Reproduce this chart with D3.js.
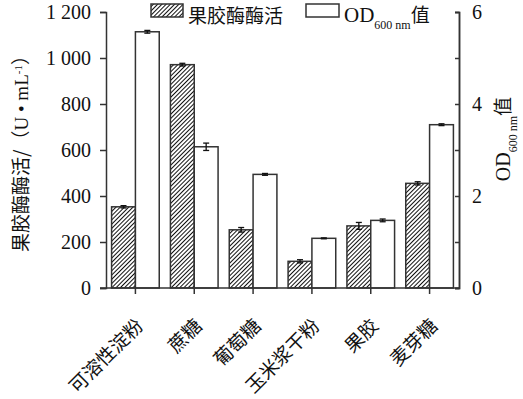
<!DOCTYPE html>
<html><head><meta charset="utf-8">
<script src="https://cdn.jsdelivr.net/npm/d3@7"></script>
<style>
html,body{margin:0;padding:0;background:#fff;}
svg{display:block;}
</style></head>
<body>
<svg id="chart" width="523" height="399"></svg>
<script>
const categories = ["可溶性淀粉","蔗糖","葡萄糖","玉米浆干粉","果胶","麦芽糖"];
const activity = [353, 971, 253, 116, 270, 455];
const activityErr = [5, 6, 10, 7, 15, 7];
const od = [5.57, 3.07, 2.47, 1.08, 1.47, 3.55];
const odErr = [0.03, 0.08, 0.02, 0.01, 0.03, 0.02];
const leftTicks = [0, 200, 400, 600, 800, 1000, 1200];
const leftTickLabels = ["0", "200", "400", "600", "800", "1 000", "1 200"];
const rightTicks = [0, 2, 4, 6];
const rightMinor = [1, 3, 5];
const legendLabels = ["果胶酶酶活", "OD"];

const svg = d3.select("#chart");
const serif = "'Liberation Serif','Times New Roman',serif";
const cjk = "'Noto Sans CJK SC','Liberation Serif',serif";
const axisCol = "#333";

const x = d3.scaleBand().domain(categories).range([106, 459]).padding(0);
const yL = d3.scaleLinear().domain([0, 1200]).range([288, 12]);
const yR = d3.scaleLinear().domain([0, 6]).range([288, 12]);
const bw = x.bandwidth() * 0.405;

const defs = svg.append("defs");
const pat = defs.append("pattern").attr("id", "hatch").attr("patternUnits", "userSpaceOnUse")
  .attr("width", 3).attr("height", 3).attr("patternTransform", "rotate(45)");
pat.append("rect").attr("width", 3).attr("height", 3).attr("fill", "#fff");
pat.append("line").attr("x1", 0).attr("y1", 0).attr("x2", 0).attr("y2", 3)
  .attr("stroke", "#111").attr("stroke-width", 2);

const cx = d => x(d) + x.bandwidth() / 2;

// bars
const g = svg.append("g");
g.selectAll("rect.act").data(categories).join("rect").attr("class", "act")
  .attr("x", d => cx(d) - bw).attr("width", bw)
  .attr("y", (d, i) => yL(activity[i])).attr("height", (d, i) => yL(0) - yL(activity[i]))
  .attr("fill", "url(#hatch)").attr("stroke", axisCol).attr("stroke-width", 1.5);
g.selectAll("rect.od").data(categories).join("rect").attr("class", "od")
  .attr("x", d => cx(d)).attr("width", bw)
  .attr("y", (d, i) => yR(od[i])).attr("height", (d, i) => yR(0) - yR(od[i]))
  .attr("fill", "#fff").attr("stroke", axisCol).attr("stroke-width", 1.5);

// error bars
function errBar(xc, yTop, yBot) {
  const e = svg.append("g").attr("stroke", "#111").attr("stroke-width", 1.3);
  e.append("line").attr("x1", xc).attr("x2", xc).attr("y1", yTop).attr("y2", yBot);
  e.append("line").attr("x1", xc - 3).attr("x2", xc + 3).attr("y1", yTop).attr("y2", yTop);
  e.append("line").attr("x1", xc - 3).attr("x2", xc + 3).attr("y1", yBot).attr("y2", yBot);
}
categories.forEach((c, i) => {
  errBar(cx(c) - bw / 2, yL(activity[i] + activityErr[i]), yL(activity[i] - activityErr[i]));
  errBar(cx(c) + bw / 2, yR(od[i] + odErr[i]), yR(od[i] - odErr[i]));
});

// left axis
const axL = d3.axisLeft(yL).tickValues(leftTicks).tickSize(6).tickPadding(9)
  .tickFormat((d, i) => leftTickLabels[i]);
const gL = svg.append("g").attr("transform", "translate(106,0)").call(axL);
// right axis
const axR = d3.axisRight(yR).tickValues(rightTicks).tickSize(-4).tickPadding(13).tickFormat(d3.format("d"));
const gR = svg.append("g").attr("transform", "translate(459,0)").call(axR);
const gRm = svg.append("g").attr("transform", "translate(459,0)")
  .call(d3.axisRight(yR).tickValues(rightMinor).tickSize(-4).tickFormat(""));
// bottom axis
const axB = d3.axisBottom(x).tickSize(6).tickFormat("");
const gB = svg.append("g").attr("transform", "translate(0,288)").call(axB);

[gL, gR, gRm, gB].forEach(a => {
  a.select(".domain").attr("stroke", axisCol).attr("stroke-width", 1.5);
  a.selectAll(".tick line").attr("stroke", axisCol).attr("stroke-width", 1.5);
  a.selectAll("text").attr("font-family", serif).attr("font-size", 20).attr("fill", "#111");
});
gB.select(".domain").attr("d", "M100,0H459");

// category labels
svg.append("g").selectAll("text").data(categories).join("text")
  .attr("transform", d => `translate(${cx(d) + 9},327) rotate(-45)`)
  .attr("text-anchor", "end").attr("font-family", cjk).attr("font-size", 19).attr("fill", "#111")
  .text(d => d);

// left axis title
const tL = svg.append("text").attr("transform", "translate(28,149) rotate(-90)")
  .attr("text-anchor", "middle").attr("font-family", cjk).attr("font-size", 19).attr("fill", "#111");
tL.append("tspan").text("果胶酶酶活/（");
tL.append("tspan").attr("font-family", serif).text("U • mL");
tL.append("tspan").attr("font-family", serif).attr("font-size", 11).attr("baseline-shift", "super").text("-1");
tL.append("tspan").text("）");

// right axis title
const tR = svg.append("text").attr("transform", "translate(510,139) rotate(-90)")
  .attr("text-anchor", "middle").attr("font-family", serif).attr("font-size", 20).attr("fill", "#111");
tR.append("tspan").text("OD");
tR.append("tspan").attr("font-size", 12).attr("baseline-shift", "sub").text("600 nm");
tR.append("tspan").attr("font-family", cjk).attr("font-size", 19).text("值");

// legend
svg.append("rect").attr("x", 151).attr("y", 4).attr("width", 32).attr("height", 13)
  .attr("fill", "url(#hatch)").attr("stroke", axisCol).attr("stroke-width", 1.5);
svg.append("text").attr("x", 188).attr("y", 22.5).attr("font-family", cjk).attr("font-size", 19)
  .attr("fill", "#111").text(legendLabels[0]);
svg.append("rect").attr("x", 306).attr("y", 4).attr("width", 33).attr("height", 13)
  .attr("fill", "#fff").attr("stroke", axisCol).attr("stroke-width", 1.5);
const tLeg = svg.append("text").attr("x", 344).attr("y", 21.5).attr("font-family", serif).attr("font-size", 21).attr("fill", "#111");
tLeg.append("tspan").text(legendLabels[1]);
tLeg.append("tspan").attr("font-size", 12).attr("baseline-shift", "sub").text("600 nm");
tLeg.append("tspan").attr("font-family", cjk).attr("font-size", 19).attr("baseline-shift", "0").text("值");
</script>
</body></html>
